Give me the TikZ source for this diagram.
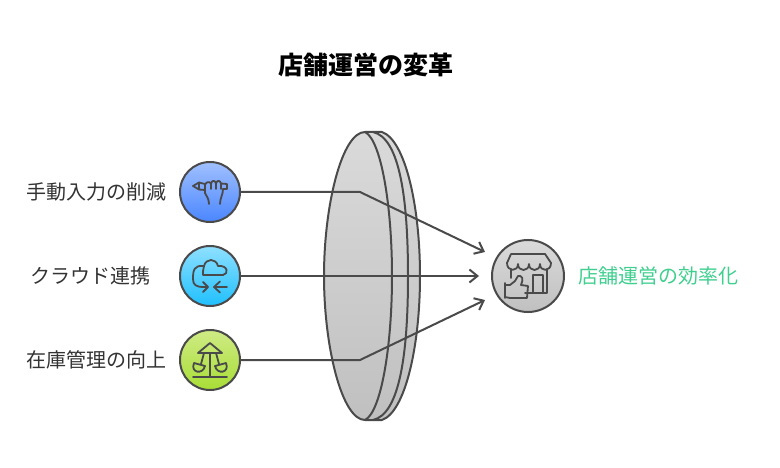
\documentclass[tikz,border=0pt]{standalone}
\usepackage{fontspec}
\newfontfamily\jpfont{Noto Sans CJK JP}
\usetikzlibrary{arrows.meta}
\definecolor{linegray}{HTML}{4A4A4A}
\definecolor{labelgray}{HTML}{333333}
\definecolor{shopgreen}{HTML}{3FCF8E}
\definecolor{handtop}{HTML}{A0C0FF}
\definecolor{handbottom}{HTML}{4A86FF}
\definecolor{cloudtop}{HTML}{8FE0FF}
\definecolor{cloudbottom}{HTML}{1FC0FF}
\definecolor{ridetop}{HTML}{CFEB85}
\definecolor{ridebottom}{HTML}{A8DE35}
\definecolor{lenstop}{HTML}{DADADA}
\definecolor{lensbottom}{HTML}{C0C0C0}
\tikzset{
  badge/.style={circle, draw=linegray, line width=2pt, minimum size=60pt, inner sep=0pt},
  label/.style={font=\jpfont\fontsize{20}{24}\selectfont, text=labelgray, inner sep=0pt},
  link/.style={draw=linegray, line width=2pt},
  tiplink/.style={link, -{Straight Barb[length=8pt,width=13pt,line width=2pt]}},
  glyph/.style={draw=linegray, line width=1.8pt, line cap=round, line join=round, fill=none},
  lensline/.style={draw=linegray, line width=2pt}
}
\begin{document}
\begin{tikzpicture}[x=1pt, y=-1pt]
\useasboundingbox (0, 0) rectangle (780, 468);

% title
\node (title) at (365.5, 65) [font=\jpfont\bfseries\fontsize{25}{30}\selectfont, inner sep=0pt] {店舗運営の変革};

% lens
\path[lensline, top color=lenstop, bottom color=lensbottom] (365, 132) -- (382, 132) .. controls (405, 140) and (420, 205) .. (420, 276) .. controls (420, 347) and (405, 412) .. (382, 420) -- (365, 420) .. controls (342, 420) and (324, 347) .. (324, 276) .. controls (324, 205) and (342, 132) .. (365, 132) -- cycle;
\draw[lensline] (365, 132) .. controls (381, 140) and (392, 205) .. (392, 276) .. controls (392, 347) and (381, 412) .. (365, 420);
\draw[lensline] (373, 132) .. controls (400, 138) and (408, 200) .. (408, 276) .. controls (408, 352) and (400, 414) .. (373, 420);

% sources
\node (handbadge) at (210, 192) [badge, top color=handtop, bottom color=handbottom] {};
\node (cloudbadge) at (210, 276) [badge, top color=cloudtop, bottom color=cloudbottom] {};
\node (ridebadge) at (210, 360) [badge, top color=ridetop, bottom color=ridebottom] {};
\node (shopbadge) at (528, 276) [badge, minimum size=72pt, top color=lenstop, bottom color=lensbottom] {};

\node (handlabel) at (96.5, 192) [label] {手動入力の削減};
\node (cloudlabel) at (90.5, 276) [label] {クラウド連携};
\node (ridelabel) at (96.5, 360) [label] {在庫管理の向上};
\node (shoplabel) at (658, 276) [label, text=shopgreen] {店舗運営の効率化};

% links
\coordinate (handbend) at (360, 192);
\coordinate (ridebend) at (360, 360);
\coordinate (handtip) at (485, 252);
\coordinate (cloudtip) at (479, 276);
\coordinate (ridetip) at (485, 300);
\draw[tiplink] (handbadge.east) -- (handbend) -- (handtip);
\draw[tiplink] (cloudbadge.east) -- (cloudtip);
\draw[tiplink] (ridebadge.east) -- (ridebend) -- (ridetip);

% hand icon
\begin{scope}[shift={(210, 192)}]
\draw[glyph] (-17, -6) -- (-11, -9.5) -- (-11, -2.5) -- cycle;
\draw[glyph] (-11, -9.5) -- (-5, -8) (-11, -2.5) -- (-5, -2) (-5, -8) -- (-5, 1);
\draw[glyph] (-5, -7) .. controls (-4, -10) and (-1, -11) .. (1, -8.5) .. controls (2, -12) and (5, -12) .. (6, -8.5) .. controls (7, -12) and (10, -12) .. (11, -8.5) -- (17, -8) -- (17, -3) -- (13, -3);
\draw[glyph] (1, -8.5) -- (1, -3) (6, -8.5) -- (6, -3) (11, -8.5) -- (11, -3);
\draw[glyph] (-5, 1) .. controls (-4, 4) and (-1, 6) .. (-1, 12);
\draw[glyph] (13, -3) .. controls (13, 3) and (10, 6) .. (10, 12);
\end{scope}

% cloud icon
\begin{scope}[shift={(210, 276)}]
\draw[glyph] (-7, -1) -- (13, -1) .. controls (19, -2) and (18, -11) .. (8, -10) .. controls (6, -18) and (-4, -18) .. (-6, -10) .. controls (-7, -7) and (-7, -4) .. (-7, -1);
\draw[glyph] (-6, -10) .. controls (-16, -11) and (-17, -6) .. (-17, 3) .. controls (-17, 9) and (-14, 11) .. (-6, 11);
\draw[glyph] (-2, 11) -- (-6, 11) (-7, 6) -- (-2, 11) -- (-7, 16);
\draw[glyph] (17, 11) -- (4, 11) (10, 5.5) -- (4, 11) -- (10, 16.5);
\end{scope}

% ride icon
\begin{scope}[shift={(210, 360)}]
\draw[glyph] (0, -17) -- (-12, -7) -- (12, -7) -- cycle;
\draw[glyph] (0, -7) -- (0, 16) (-17, 17) -- (17, 17);
\draw[glyph] (-6, -7) -- (-9, 4) (6, -7) -- (9, 4);
\draw[glyph] (-16, 3) .. controls (-20, 13) and (-7, 15) .. (-5, 6) -- (-16, 3);
\draw[glyph] (16, 3) .. controls (20, 13) and (7, 15) .. (5, 6) -- (16, 3);
\end{scope}

% shop icon
\begin{scope}[shift={(528, 276)}]
\draw[glyph] (-17, -22) -- (17, -22) -- (23, -13) (-17, -22) -- (-21, -13);
\draw[glyph] (-21, -13) .. controls (-21, -4) and (-10, -4) .. (-10, -12) .. controls (-10, -4) and (1, -4) .. (1, -12) .. controls (1, -4) and (12, -4) .. (12, -12) .. controls (12, -4) and (23, -4) .. (23, -13);
\draw[glyph] (-17, -7) -- (-17, 2) (19, -7) -- (19, 17) -- (-3, 17);
\draw[glyph] (5, 17) -- (5, -1) -- (15, -1) -- (15, 17);
\draw[glyph] (-23, 7) -- (-23, 22) (-23, 9) -- (-18, 9) -- (-13, 5) -- (-10, 0) .. controls (-6, -1) and (-4, 3) .. (-7, 9) -- (0, 10) -- (-1, 22) -- (-18, 22) -- (-23, 21);
\end{scope}

\end{tikzpicture}
\end{document}
